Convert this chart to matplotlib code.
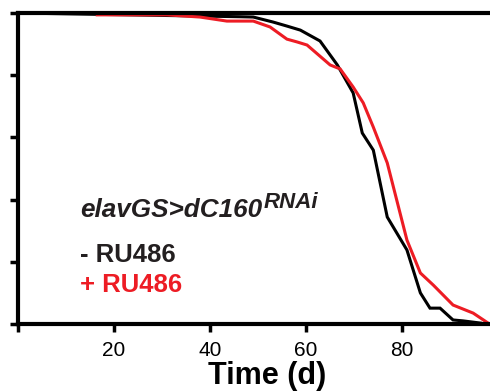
import matplotlib
matplotlib.use("Agg")
import matplotlib.pyplot as plt

# ---------- Data ----------
days_minus = [0, 46.3, 49.0, 53.1, 56.0, 58.8, 62.9, 66.5, 69.8, 71.7, 74.0,
              76.9, 81.0, 83.8, 85.8, 87.9, 90.6, 92.7, 96.3]
surv_minus = [100, 98.8, 98.7, 97.1, 95.8, 94.5, 91.0, 83.3, 74.3, 61.4, 55.9,
              34.4, 23.8, 10.0, 5.1, 5.1, 1.3, 1.0, 0.3]

days_plus = [16.5, 31.0, 37.9, 43.5, 49.0, 52.5, 56.0, 58.1, 60.2, 65.0, 67.1,
             69.8, 71.9, 74.0, 76.9, 81.0, 83.8, 86.5, 90.6, 94.8, 97.9]
surv_plus = [99.4, 99.4, 98.7, 97.4, 97.4, 95.5, 91.6, 90.7, 89.7, 83.3, 82.0,
             76.2, 71.1, 63.3, 51.8, 27.0, 16.4, 12.5, 6.1, 3.5, 0.3]

x_ticks = [0, 20, 40, 60, 80]
x_tick_labels = ["", "20", "40", "60", "80"]
y_ticks = [0, 20, 40, 60, 80, 100]

BLACK = "#000000"
DARK = "#231F20"
RED = "#ED1C24"

plt.rcParams["font.family"] = ["Liberation Sans", "DejaVu Sans"]

fig = plt.figure(figsize=(4.9, 3.92), dpi=100)
ax = fig.add_axes([18 / 490, 1 - 324 / 392, 1 - 18 / 490, (324 - 13) / 392])

ax.plot(days_minus, surv_minus, color=BLACK, lw=2.2, solid_joinstyle="miter", clip_on=False)
ax.plot(days_plus, surv_plus, color=RED, lw=2.2, solid_joinstyle="miter", clip_on=False)

ax.set_xlim(0, 98.3)
ax.set_ylim(0, 100)
ax.set_xticks(x_ticks)
ax.set_xticklabels(x_tick_labels, fontsize=15)
ax.set_yticks(y_ticks)
ax.set_yticklabels([])
ax.tick_params(axis="both", direction="out", length=6, width=2.5, color=BLACK, pad=6)
ax.set_xlabel("Time (d)", fontsize=22, fontweight="bold")
ax.xaxis.set_label_coords((267 - 18) / 472, -(384 - 324) / 311, transform=ax.transAxes)
ax.xaxis.label.set_va("baseline")

for side in ["left", "bottom", "top"]:
    ax.spines[side].set_linewidth(3)
    ax.spines[side].set_color(BLACK)
ax.spines["right"].set_visible(False)

# genotype label with superscript drawn as a second text
main = fig.text(80 / 490, 1 - 217 / 392, "elavGS>dC160", fontsize=18.8,
                fontweight="bold", fontstyle="italic", color=DARK, va="baseline")
fig.canvas.draw()
bb = main.get_window_extent(fig.canvas.get_renderer())
fig.text(bb.x1 / fig.bbox.width + 1 / 490, 1 - 208 / 392, "RNAi", fontsize=16,
         fontweight="bold", fontstyle="italic", color=DARK, va="baseline")

fig.text(80 / 490, 1 - 262 / 392, "- RU486", fontsize=18.5, fontweight="bold",
         color=DARK, va="baseline")
fig.text(80 / 490, 1 - 292 / 392, "+ RU486", fontsize=18.5, fontweight="bold",
         color=RED, va="baseline")

fig.savefig("out.png", dpi=100)
